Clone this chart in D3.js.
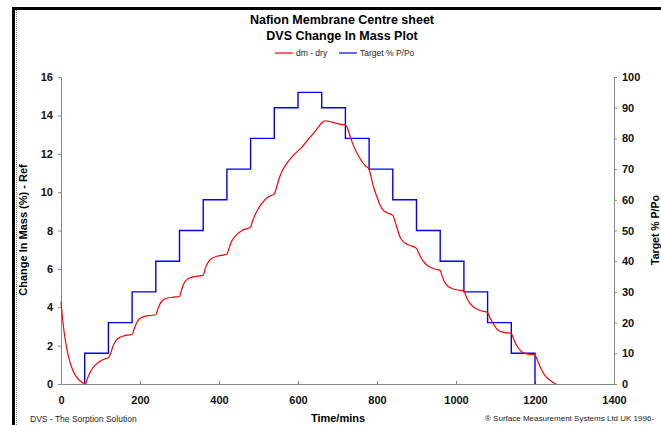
<!DOCTYPE html>
<html>
<head>
<meta charset="utf-8">
<script src="https://cdn.jsdelivr.net/npm/d3@7"></script>
<style>
  body { margin: 0; background: #fff; overflow: hidden; }
  svg { display: block; font-family: "Liberation Sans", Arial, sans-serif; }
  .tick text { font-size: 11px; font-weight: bold; fill: #111; }
  .domain, .tick line { stroke: #888; }
</style>
</head>
<body>
<script>

// Red series: dm - dry (% change in mass)
var massTime = [0, 4, 8, 12, 16, 20, 25, 30, 35, 40, 45, 50, 55, 60, 62,
  66, 70, 75, 80, 90, 100, 110, 120,
  125, 130, 135, 140, 150, 160, 170, 180,
  185, 190, 195, 200, 210, 225, 240,
  245, 250, 255, 260, 270, 285, 300,
  305, 310, 315, 320, 330, 345, 360,
  365, 370, 375, 382, 395, 410, 420,
  425, 430, 438, 448, 460, 480,
  485, 492, 500, 510, 520, 535, 540,
  545, 552, 560, 570, 580, 590, 600,
  610, 620, 630, 640, 650, 660,
  668, 680, 690, 700, 710, 720,
  726, 732, 740, 750, 760, 770, 780,
  785, 791, 800, 808, 815, 825, 840,
  846, 852, 858, 866, 875, 884, 900,
  905, 912, 922, 935, 948, 960,
  965, 970, 978, 990, 1005, 1020,
  1025, 1032, 1042, 1055, 1068, 1080,
  1086, 1094, 1102, 1111, 1125, 1140,
  1145, 1149, 1157, 1166, 1180, 1200,
  1204, 1210, 1217, 1225, 1232, 1238, 1246, 1254];
var massChange = [4.3, 3.4, 2.7, 2.15, 1.7, 1.35, 1.0, 0.72, 0.5, 0.34, 0.22, 0.13, 0.06, 0.02, 0,
  0.22, 0.45, 0.66, 0.82, 1.05, 1.2, 1.3, 1.37,
  1.55, 1.88, 2.12, 2.28, 2.44, 2.51, 2.55, 2.58,
  2.85, 3.12, 3.3, 3.41, 3.51, 3.57, 3.61,
  3.9, 4.15, 4.3, 4.4, 4.48, 4.53, 4.56,
  4.9, 5.18, 5.36, 5.46, 5.56, 5.62, 5.67,
  6.0, 6.25, 6.42, 6.55, 6.66, 6.72, 6.76,
  7.05, 7.35, 7.62, 7.85, 8.02, 8.18,
  8.5, 8.85, 9.15, 9.45, 9.68, 9.85, 9.9,
  10.2, 10.7, 11.1, 11.45, 11.72, 11.95, 12.15,
  12.35, 12.6, 12.85, 13.08, 13.35, 13.6,
  13.72, 13.68, 13.62, 13.57, 13.53, 13.5,
  13.3, 12.9, 12.45, 12.0, 11.65, 11.38, 11.18,
  10.8, 10.28, 9.75, 9.32, 9.08, 8.93, 8.8,
  8.45, 8.05, 7.67, 7.42, 7.3, 7.22, 7.07,
  6.85, 6.55, 6.28, 6.08, 5.98, 5.92,
  5.62, 5.35, 5.12, 4.98, 4.9, 4.85,
  4.6, 4.3, 4.05, 3.88, 3.79, 3.73,
  3.45, 3.16, 2.9, 2.75, 2.68, 2.63,
  2.4, 2.2, 1.9, 1.68, 1.57, 1.51,
  1.34, 1.05, 0.73, 0.45, 0.3, 0.2, 0.08, 0];

// Blue series: target % P/Po steps
var stepTime = [60, 60, 120, 180, 240, 300, 360, 420, 480, 540, 600, 660,
  720, 780, 840, 900, 960, 1020, 1080, 1140, 1200];
var targetRH = [0, 10, 20, 30, 40, 50, 60, 70, 80, 90, 95, 90,
  80, 70, 60, 50, 40, 30, 20, 10, 0];

var xTicks = [0, 200, 400, 600, 800, 1000, 1200, 1400];
var yTicks = [0, 2, 4, 6, 8, 10, 12, 14, 16];
var rhTicks = [0, 10, 20, 30, 40, 50, 60, 70, 80, 90, 100];

var W = 661, H = 425;
var plot = { left: 61, right: 614, top: 77, bottom: 384 };

var svg = d3.select("body").append("svg")
    .attr("width", W)
    .attr("height", H);

// frame edges
svg.append("line").attr("x1", 12).attr("x2", W).attr("y1", 8.5).attr("y2", 8.5)
    .attr("stroke", "#000").attr("stroke-width", 3);
svg.append("line").attr("x1", 13.5).attr("x2", 13.5).attr("y1", 7).attr("y2", H)
    .attr("stroke", "#000").attr("stroke-width", 3);
svg.append("line").attr("x1", 16.5).attr("x2", 16.5).attr("y1", 10).attr("y2", H)
    .attr("stroke", "#777").attr("stroke-width", 1).attr("stroke-dasharray", "1,1");

var xScale = d3.scaleLinear().domain([0, 1400]).range([plot.left, plot.right]);
var yScale = d3.scaleLinear().domain([0, 16]).range([plot.bottom, plot.top]);
var rhScale = d3.scaleLinear().domain([0, 100]).range([plot.bottom, plot.top]);

// axes
svg.append("g")
    .attr("transform", "translate(0," + plot.bottom + ")")
    .call(d3.axisBottom(xScale).tickValues(xTicks).tickFormat(d3.format("d"))
        .tickSizeInner(-3).tickSizeOuter(0).tickPadding(10))
    .call(function (g) { g.selectAll(".tick text").attr("dy", "0.9em"); });

svg.append("g")
    .attr("transform", "translate(" + plot.left + ",0)")
    .call(d3.axisLeft(yScale).tickValues(yTicks).tickSize(3).tickPadding(5));

svg.append("g")
    .attr("transform", "translate(" + plot.right + ",0)")
    .call(d3.axisRight(rhScale).tickValues(rhTicks).tickSize(3).tickPadding(5));

// lines
var massData = massTime.map(function (t, i) { return [t, massChange[i]]; });
var rhData = stepTime.map(function (t, i) { return [t, targetRH[i]]; });

svg.append("path")
    .datum(rhData)
    .attr("fill", "none")
    .attr("stroke", "#0000ff")
    .attr("stroke-width", 1.4)
    .attr("d", d3.line()
        .x(function (d) { return xScale(d[0]); })
        .y(function (d) { return rhScale(d[1]); })
        .curve(d3.curveStepAfter));

svg.append("path")
    .datum(massData)
    .attr("fill", "none")
    .attr("stroke", "#ff0000")
    .attr("stroke-width", 1.2)
    .attr("d", d3.line()
        .x(function (d) { return xScale(d[0]); })
        .y(function (d) { return yScale(d[1]); })
        .curve(d3.curveMonotoneX));

// titles
svg.append("text").attr("x", 342).attr("y", 24)
    .attr("text-anchor", "middle").style("font-size", "12.5px").style("font-weight", "bold")
    .text("Nafion Membrane Centre sheet");
svg.append("text").attr("x", 342).attr("y", 40)
    .attr("text-anchor", "middle").style("font-size", "12.5px").style("font-weight", "bold")
    .text("DVS Change In Mass Plot");

// legend
var legend = [
    { name: "dm - dry", color: "#ff0000", x: 275 },
    { name: "Target % P/Po", color: "#0000ff", x: 339 }
];
legend.forEach(function (d) {
    svg.append("line").attr("x1", d.x).attr("x2", d.x + 18).attr("y1", 53).attr("y2", 53)
        .attr("stroke", d.color).attr("stroke-width", 1.2);
    svg.append("text").attr("x", d.x + 21).attr("y", 56)
        .style("font-size", "8.5px").style("fill", "#222").text(d.name);
});

// axis labels
svg.append("text")
    .attr("transform", "translate(27,230) rotate(-90)")
    .attr("text-anchor", "middle").style("font-size", "11px").style("font-weight", "bold")
    .text("Change In Mass (%) - Ref");
svg.append("text")
    .attr("transform", "translate(659,230) rotate(-90)")
    .attr("text-anchor", "middle").style("font-size", "10.5px").style("font-weight", "bold")
    .text("Target % P/Po");
svg.append("text").attr("x", 338).attr("y", 422)
    .attr("text-anchor", "middle").style("font-size", "11px").style("font-weight", "bold")
    .text("Time/mins");

// footers
svg.append("text").attr("x", 30).attr("y", 422)
    .style("font-size", "8.5px").style("fill", "#222").text("DVS - The Sorption Solution");
svg.append("text").attr("x", 485).attr("y", 421)
    .style("font-size", "8px").style("fill", "#222").text("\u00ae Surface Measurement Systems Ltd UK 1996-");

</script>
</body>
</html>
